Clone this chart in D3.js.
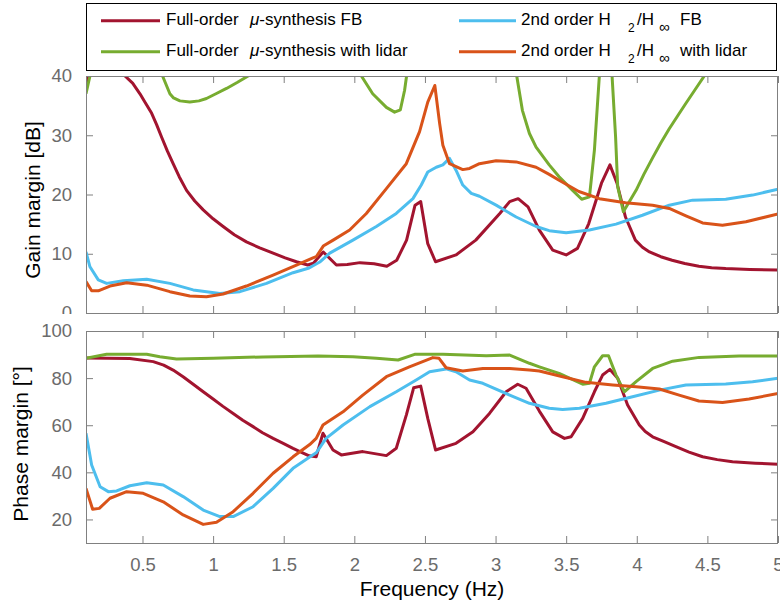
<!DOCTYPE html>
<html><head><meta charset="utf-8">
<script src="https://cdn.jsdelivr.net/npm/d3@7/dist/d3.min.js"></script>
<style>body{margin:0;background:#fff}svg{display:block}</style>
</head><body><svg id="chart" width="780" height="605"></svg>
<script>
// ---------- data ----------
const seriesNames = ["Full-order μ-synthesis FB", "Full-order μ-synthesis with lidar", "2nd order H2/H∞ FB", "2nd order H2/H∞ with lidar"];
const xTickValues = [0.5, 1, 1.5, 2, 2.5, 3, 3.5, 4, 4.5, 5];
const xTickLabels = ["0.5", "1", "1.5", "2", "2.5", "3", "3.5", "4", "4.5", "5"];
const gainTicks = [0, 10, 20, 30, 40];
const phaseTicks = [20, 40, 60, 80, 100];

// Gain margin [dB]
const gainFreqFullFB = [0.1,0.13,0.3,0.376,0.43,0.482,0.52,0.565,0.6,0.635,0.675,0.717,0.76,0.812,0.87,0.93,1.0,1.071,1.15,1.236,1.33,1.425,1.51,1.59,1.67,1.71,1.78,1.873,1.95,2.04,2.14,2.23,2.3,2.37,2.43,2.47,2.52,2.575,2.72,2.86,3.03,3.1,3.16,3.23,3.31,3.405,3.5,3.58,3.66,3.75,3.81,3.86,3.92,3.99,4.04,4.09,4.17,4.25,4.34,4.44,4.53,4.63,4.8,5.0];
const gainFullFB     = [38.3,41,42.5,40.0,38.8,37.0,35.5,33.7,31.8,29.7,27.4,25.2,23.0,20.7,18.9,17.4,15.9,14.6,13.2,12.0,11.0,10.1,9.3,8.65,8.1,8.4,10.3,8.1,8.2,8.5,8.3,7.9,8.9,12.3,18.2,18.8,11.7,8.65,9.8,12.3,16.8,18.8,19.3,17.9,14.0,10.6,9.8,10.9,15.1,21.9,25.0,21.9,16.2,12.3,11.1,10.3,9.5,8.9,8.35,7.9,7.65,7.5,7.35,7.25];

const gainFreqFullLidar = [0.1,0.128,0.2,0.55,0.642,0.694,0.72,0.765,0.835,0.9,0.953,1.02,1.095,1.17,1.248,1.4,1.9,2.05,2.13,2.227,2.285,2.326,2.356,2.37,2.42,3.1,3.15,3.19,3.24,3.287,3.38,3.45,3.546,3.61,3.665,3.7,3.735,3.75,3.81,3.825,3.85,3.865,3.905,3.995,4.05,4.11,4.17,4.23,4.29,4.348,4.41,4.478,4.6,5.0];
const gainFullLidar     = [37.0,40.0,50,50,40,37.0,36.3,35.8,35.6,35.8,36.2,37.0,37.9,38.9,40,45,45,40,37.0,34.7,33.9,34.3,37.6,40,46,46,40,34.2,30.3,28.0,25.0,23.0,20.7,19.2,19.6,27.5,40,45,45,40,29.7,21.3,17.1,20.7,23.4,26.1,28.7,31.1,33.3,35.4,37.6,40,43,50];

const gainFreqH2FB = [0.1,0.128,0.187,0.246,0.364,0.53,0.694,0.859,1.048,1.19,1.378,1.566,1.68,1.755,1.826,1.99,2.156,2.297,2.415,2.474,2.52,2.58,2.627,2.674,2.72,2.768,2.828,2.886,3.004,3.146,3.287,3.38,3.5,3.665,3.853,4.04,4.23,4.395,4.63,4.82,5.0];
const gainH2FB     = [10.3,7.8,5.6,5.0,5.45,5.7,5.0,3.9,3.3,3.6,5.0,6.8,7.6,8.6,10.1,12.3,14.6,16.8,19.3,21.6,23.8,24.6,25.0,26.1,24.1,21.6,20.2,19.7,18.2,16.2,14.6,13.9,13.55,14.0,15.0,16.5,18.2,19.05,19.2,19.9,20.9];

const gainFreqH2Lidar = [0.1,0.14,0.187,0.27,0.388,0.53,0.694,0.835,0.953,1.071,1.236,1.425,1.59,1.707,1.73,1.78,1.85,1.967,2.085,2.227,2.368,2.462,2.52,2.57,2.604,2.627,2.674,2.768,2.816,2.886,3.004,3.146,3.287,3.38,3.45,3.59,3.735,3.92,4.112,4.23,4.348,4.466,4.607,4.773,5.0];
const gainH2Lidar     = [5.3,3.75,3.75,4.55,5.1,4.7,3.6,2.87,2.75,3.2,4.55,6.4,8.1,9.3,9.5,11.3,12.3,14.0,16.8,21.0,25.2,30.6,35.6,38.4,32.0,28.3,25.2,24.2,24.4,25.2,25.7,25.5,24.6,23.4,22.4,20.5,19.3,18.6,18.2,17.65,16.4,15.2,14.8,15.4,16.7];

// Phase margin [deg]
const phaseFreqFullFB = [0.1,0.41,0.576,0.65,0.717,0.79,0.859,0.93,1.0,1.07,1.142,1.21,1.283,1.35,1.425,1.5,1.566,1.63,1.68,1.73,1.778,1.849,1.908,2.06,2.227,2.297,2.368,2.42,2.47,2.52,2.575,2.72,2.84,2.957,3.075,3.157,3.216,3.31,3.405,3.488,3.535,3.617,3.7,3.758,3.81,3.865,3.935,4.018,4.06,4.112,4.19,4.277,4.37,4.466,4.57,4.678,4.84,5.0];
const phaseFullFB     = [88.5,88.3,87.0,85.5,83.4,80.5,77.4,74.2,71.1,68.0,65.0,62.1,59.4,56.8,54.4,52.2,50.2,48.4,47.0,46.6,56.6,49.5,47.4,48.8,47.1,50.2,64.3,75.9,76.6,62.9,49.5,52.3,57.2,65.0,74.2,77.4,75.7,66.0,57.2,54.4,55.1,62.9,74.2,81.3,83.7,79.9,68.6,60.1,57.3,55.1,53.1,50.9,48.6,46.6,45.4,44.5,43.9,43.4];

const phaseFreqFullLidar = [0.1,0.246,0.53,0.623,0.741,1.0,1.354,1.743,1.99,2.156,2.31,2.427,2.627,2.934,3.1,3.24,3.31,3.45,3.617,3.665,3.7,3.758,3.8,3.853,3.912,3.995,4.112,4.254,4.442,4.725,5.0];
const phaseFullLidar     = [88.4,90.1,90.1,89.1,88.1,88.4,89.0,89.4,89.1,88.4,87.7,90.1,90.1,89.5,89.8,86.3,84.8,82.0,77.4,77.8,84.8,89.5,89.5,81.3,74.2,78.5,84.1,87.2,88.8,89.4,89.4];

const phaseFreqH2FB = [0.1,0.14,0.2,0.258,0.317,0.411,0.53,0.647,0.788,0.93,1.048,1.142,1.283,1.425,1.566,1.684,1.73,1.8,1.92,2.11,2.297,2.438,2.533,2.65,2.72,2.816,2.91,3.1,3.24,3.38,3.475,3.594,3.782,3.97,4.16,4.348,4.63,4.82,5.0];
const phaseH2FB     = [56.6,43.1,33.9,31.8,32.1,34.3,35.6,34.6,29.7,24.0,21.2,21.2,25.4,33.2,41.7,46.5,48.3,54.4,60.1,67.9,74.2,79.2,82.7,83.9,82.7,79.2,77.8,72.8,69.3,67.2,66.7,67.2,69.3,72.1,74.9,77.1,77.5,78.5,79.9];

const phaseFreqH2Lidar = [0.1,0.147,0.194,0.27,0.388,0.505,0.647,0.788,0.93,1.024,1.142,1.283,1.425,1.566,1.684,1.73,1.778,1.92,2.06,2.227,2.39,2.556,2.6,2.65,2.768,2.91,3.1,3.24,3.31,3.475,3.64,3.83,3.995,4.16,4.3,4.44,4.607,4.795,5.0];
const phaseH2Lidar     = [33.2,24.3,24.7,29.0,31.8,31.1,27.5,21.9,17.9,18.8,23.3,31.1,39.6,46.6,51.8,54.4,60.1,65.7,72.8,80.6,84.8,88.7,88.4,84.4,83.0,84.1,84.1,83.4,83.0,80.6,78.2,77.1,76.3,75.4,72.8,70.3,69.6,71.1,73.5];

const seriesColors = ["#A2142F", "#77AC30", "#4DBEEE", "#D95319"];

// ---------- layout ----------
const FONT = "'Liberation Sans', Arial, Helvetica, sans-serif";
const svg = d3.select("#chart");
const defs = svg.append("defs");
const L = 86, R = 778;
const topPanel = {y0: 76, y1: 313, domain: [0, 40], ticks: gainTicks, label: "Gain margin [dB]", labelX: 40, labelY: 200, clip: "clipTop", labelClip: 314,
  series: [[gainFreqFullFB, gainFullFB], [gainFreqFullLidar, gainFullLidar], [gainFreqH2FB, gainH2FB], [gainFreqH2Lidar, gainH2Lidar]]};
const botPanel = {y0: 331, y1: 543, domain: [10, 100], ticks: phaseTicks, label: "Phase margin [°]", labelX: 28, labelY: 444, clip: "clipBot", labelClip: 605,
  series: [[phaseFreqFullFB, phaseFullFB], [phaseFreqFullLidar, phaseFullLidar], [phaseFreqH2FB, phaseH2FB], [phaseFreqH2Lidar, phaseH2Lidar]]};

const x = d3.scaleLinear().domain([0.1, 5]).range([L, R]);
const AX = "#808080", TXT = "#6b6b6b", TICK = 7;

function drawPanel(p, showX) {
  const y = d3.scaleLinear().domain(p.domain).range([p.y1, p.y0]);
  const g = svg.append("g");
  defs.append("clipPath").attr("id", p.clip)
    .append("rect").attr("x", L).attr("y", p.y0).attr("width", R - L).attr("height", p.y1 - p.y0);
  defs.append("clipPath").attr("id", p.clip + "Lab")
    .append("rect").attr("x", 0).attr("y", 0).attr("width", 780).attr("height", p.labelClip);

  const left = d3.axisLeft(y).tickValues(p.ticks).tickSizeInner(-TICK).tickSizeOuter(0).tickPadding(14);
  const right = d3.axisRight(y).tickValues(p.ticks).tickSizeInner(-TICK).tickSizeOuter(0).tickFormat("");
  const bottom = d3.axisBottom(x).tickValues(xTickValues).tickSizeInner(-TICK).tickSizeOuter(0).tickPadding(15)
    .tickFormat((d, i) => showX ? xTickLabels[i] : "");
  const top = d3.axisTop(x).tickValues(xTickValues).tickSizeInner(-TICK).tickSizeOuter(0).tickFormat("");

  const leftWrap = g.append("g").attr("clip-path", `url(#${p.clip}Lab)`);
  const ga = [
    leftWrap.append("g").attr("transform", `translate(${L},0)`).call(left),
    g.append("g").attr("transform", `translate(${R},0)`).call(right),
    g.append("g").attr("transform", `translate(0,${p.y1})`).call(bottom),
    g.append("g").attr("transform", `translate(0,${p.y0})`).call(top)
  ];
  ga.forEach(a => {
    a.select(".domain").remove();
    a.selectAll(".tick line").attr("stroke", AX).attr("stroke-width", 1);
    a.selectAll(".tick text").attr("fill", TXT).attr("font-family", FONT).attr("font-size", 18.5);
  });

  const line = d3.line().x(d => x(d[0])).y(d => y(d[1]));
  const lg = g.append("g").attr("clip-path", `url(#${p.clip})`);
  p.series.forEach((s, i) => {
    const pts = s[0].map((f, k) => [f, s[1][k]]);
    lg.append("path").datum(pts).attr("d", line).attr("fill", "none")
      .attr("stroke", seriesColors[i]).attr("stroke-width", 3).attr("stroke-linejoin", "round");
  });

  g.append("rect").attr("x", L + 0.5).attr("y", p.y0 + 0.5).attr("width", R - L - 1).attr("height", p.y1 - p.y0)
    .attr("fill", "none").attr("stroke", AX).attr("stroke-width", 1);

  g.append("text").attr("transform", `translate(${p.labelX},${p.labelY}) rotate(-90)`)
    .attr("text-anchor", "middle").attr("font-family", FONT).attr("font-size", 21).attr("fill", "#000").text(p.label);
}

drawPanel(topPanel, false);
drawPanel(botPanel, true);

svg.append("text").attr("x", (L + R) / 2).attr("y", 596).attr("text-anchor", "middle")
  .attr("font-family", FONT).attr("font-size", 21).attr("fill", "#000").text("Frequency (Hz)");

// ---------- legend ----------
const leg = svg.append("g");
leg.append("rect").attr("x", 86.5).attr("y", 3.5).attr("width", 690).attr("height", 67)
  .attr("fill", "#fff").attr("stroke", "#000").attr("stroke-width", 1);
const legRows = [20.7, 51.7];
const legCols = [{x1: 101, x2: 160, tx: 166}, {x1: 459, x2: 516, tx: 521}];
const legItems = [{c: 0, r: 0, s: 0}, {c: 0, r: 1, s: 1}, {c: 1, r: 0, s: 2}, {c: 1, r: 1, s: 3}];
legItems.forEach(it => {
  const col = legCols[it.c], ly = legRows[it.r], by = ly + 4.2;
  leg.append("line").attr("x1", col.x1).attr("x2", col.x2).attr("y1", ly).attr("y2", ly)
    .attr("stroke", seriesColors[it.s]).attr("stroke-width", 3);
  const t = leg.append("text").attr("x", col.tx).attr("y", by).attr("font-family", FONT).attr("font-size", 17).attr("fill", "#000");
  const tail = it.s === 0 || it.s === 2 ? "FB" : "with lidar";
  if (it.c === 0) {
    t.append("tspan").text("Full-order");
    t.append("tspan").attr("x", 250).attr("font-style", "italic").text("μ");
    t.append("tspan").text("-synthesis " + tail);
  } else {
    t.append("tspan").text("2nd order H");
    t.append("tspan").attr("x", 628).attr("dy", 7.5).attr("font-size", 12).text("2");
    t.append("tspan").attr("x", 637).attr("dy", -7.5).text("/H");
    t.append("tspan").attr("x", 659).attr("dy", 7.5).attr("font-size", 15).text("∞");
    t.append("tspan").attr("x", 680).attr("dy", -7.5).text(tail);
  }
});
</script>
</body></html>
